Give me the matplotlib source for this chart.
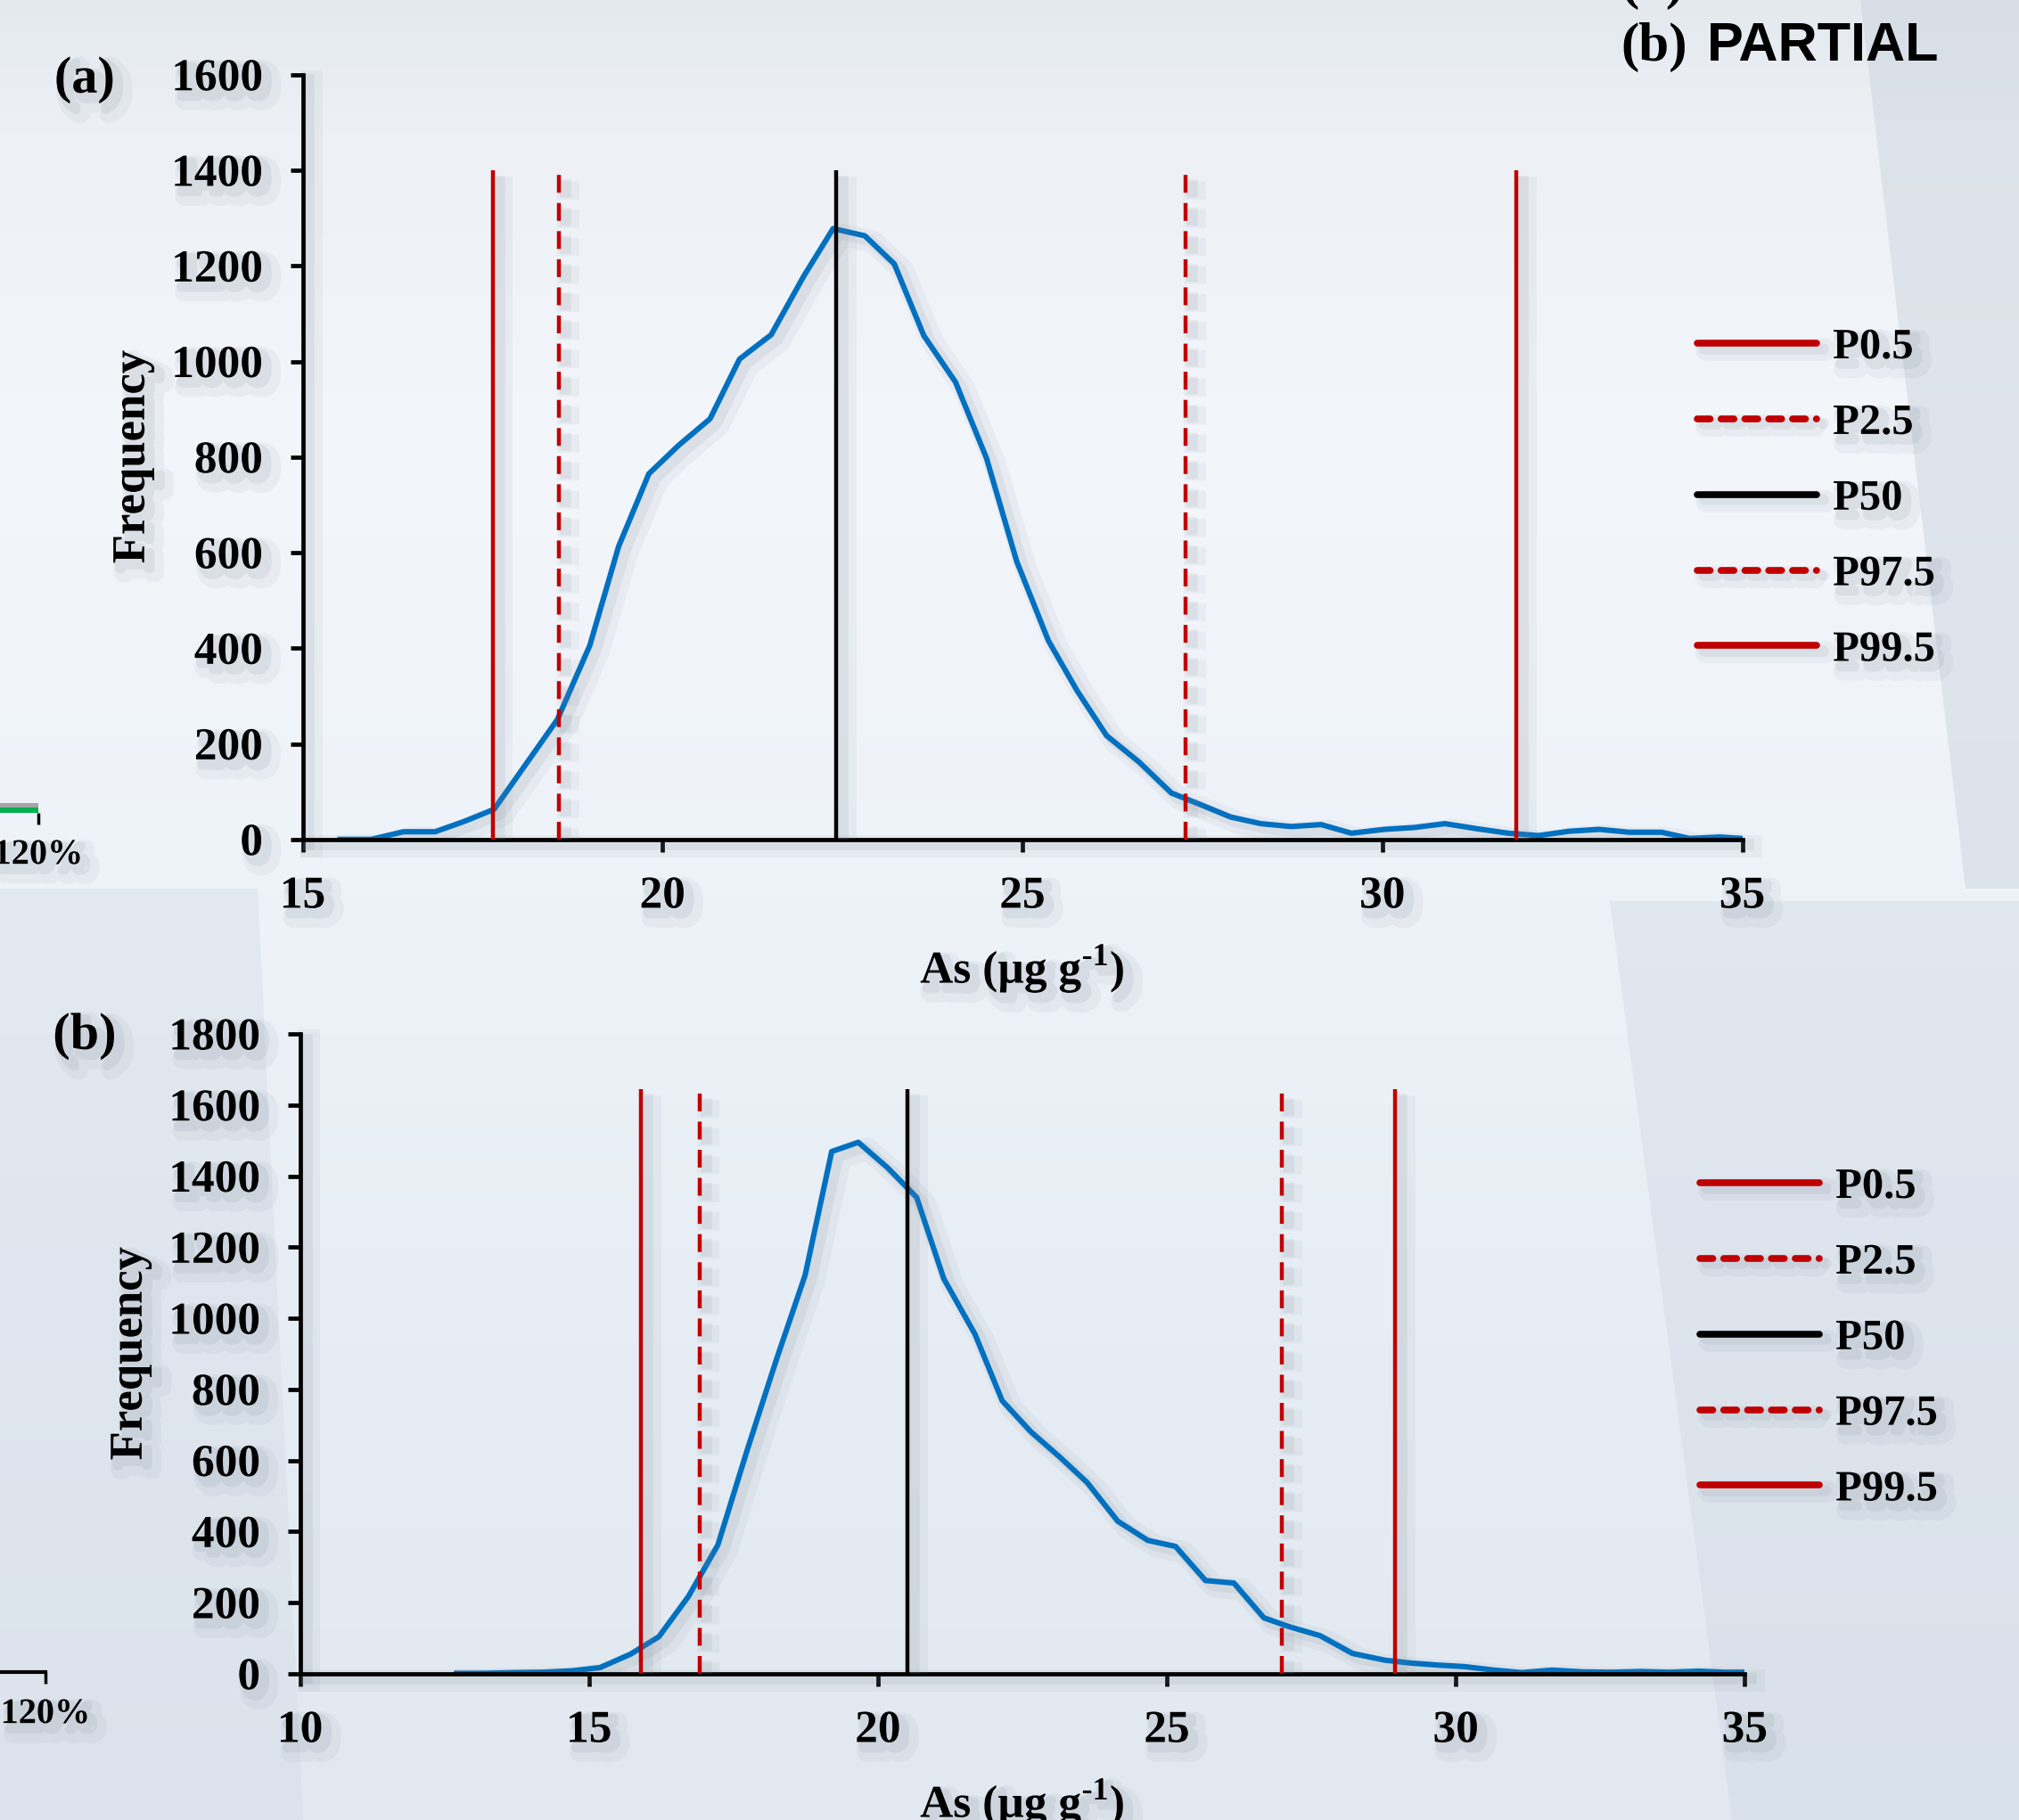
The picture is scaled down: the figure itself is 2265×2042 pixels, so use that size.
import numpy as np
import matplotlib
matplotlib.use("Agg")
import matplotlib.pyplot as plt
import matplotlib.patheffects as pe
from matplotlib.lines import Line2D
from matplotlib.patches import Polygon

W, H = 2265, 2042

# (a) distribution of As
a_conc = [15.52, 15.95, 16.40, 16.84, 17.25, 17.66, 18.10, 18.54, 18.99, 19.39,
          19.81, 20.22, 20.66, 21.07, 21.51, 21.96, 22.37, 22.81, 23.22, 23.63,
          24.07, 24.50, 24.92, 25.36, 25.76, 26.17, 26.62, 27.07, 27.47, 27.89,
          28.31, 28.73, 29.15, 29.57, 30.03, 30.45, 30.87, 31.33, 31.75, 32.17,
          32.59, 33.01, 33.43, 33.88, 34.27, 34.69, 35.00]
a_freq = [0, 0, 16, 16, 38, 63, 157, 251, 406, 613,
          765, 824, 880, 1005, 1056, 1178, 1278, 1263, 1204, 1054,
          957, 798, 582, 416, 311, 217, 162, 97, 73, 47,
          33, 27, 31, 13, 21, 25, 33, 22, 13, 8,
          17, 21, 15, 15, 2, 5, 2]
a_pct = [17.64, 18.56, 22.41, 27.27, 31.86]
a_pct_top = 1400

# (b) distribution of As
b_conc = [12.71, 13.20, 13.70, 14.20, 14.70, 15.19, 15.72, 16.21, 16.72, 17.23,
          17.73, 18.24, 18.74, 19.20, 19.66, 20.17, 20.67, 21.14, 21.68, 22.15,
          22.65, 23.15, 23.62, 24.15, 24.67, 25.15, 25.67, 26.16, 26.68, 27.12,
          27.65, 28.21, 28.77, 29.21, 29.70, 30.14, 30.66, 31.14, 31.67, 32.20,
          32.66, 33.20, 33.70, 34.20, 34.65, 35.00]
b_freq = [1, 1, 3, 4, 8, 17, 55, 104, 217, 362,
          625, 882, 1121, 1469, 1495, 1423, 1340, 1111, 955, 768,
          680, 609, 538, 429, 375, 358, 262, 255, 157, 132,
          107, 57, 38, 30, 24, 20, 10, 3, 10, 5,
          4, 6, 4, 7, 4, 4]
b_pct = [15.90, 16.91, 20.51, 26.99, 28.95]
b_pct_top = 1645

pct_labels = ["P0.5", "P2.5", "P50", "P97.5", "P99.5"]
pct_colors = ["#c00000", "#c00000", "black", "#c00000", "#c00000"]
pct_dashed = [False, True, False, True, False]

SERIF = "Liberation Serif"
plt.rcParams["font.family"] = [SERIF, "DejaVu Sans"]
plt.rcParams["font.weight"] = "bold"
plt.rcParams["mathtext.fontset"] = "custom"
plt.rcParams["mathtext.rm"] = "Liberation Serif:bold"

SH = "#7f8995"


def line_fx():
    return [pe.SimpleLineShadow(offset=(7, -5), shadow_color=SH, alpha=0.08, linewidth=18),
            pe.SimpleLineShadow(offset=(5, -4), shadow_color=SH, alpha=0.12, linewidth=9),
            pe.Normal()]


def text_fx():
    return [pe.SimpleLineShadow(offset=(8, -8), shadow_color=SH, alpha=0.08, linewidth=16),
            pe.SimpleLineShadow(offset=(5, -5), shadow_color=SH, alpha=0.13, linewidth=7),
            pe.Normal()]


def fx(x):
    return x / W


def fy(y):
    return 1 - y / H


fig = plt.figure(figsize=(W / 100, H / 100), dpi=100)

# slide-like background
bg = fig.add_axes([0, 0, 1, 1], zorder=-10)
bg.axis("off")
stops_y = [0, 150, 500, 1000, 1400, 2042]
stops_c = ["#e4e9ef", "#edf1f6", "#f3f6fb", "#eef3f9", "#e8eef5", "#e1e8f0"]
rows = np.arange(H)
cols = np.array([matplotlib.colors.to_rgb(c) for c in stops_c])
grad = np.stack([np.interp(rows, stops_y, cols[:, k]) for k in range(3)], axis=1)
bg.imshow(grad[:, None, :], aspect="auto", extent=(0, W, H, 0))
bg.set_xlim(0, W)
bg.set_ylim(H, 0)
bg.add_patch(Polygon([(2087, 0), (W, 0), (W, 997), (2205, 997)], closed=True,
                     color="#c9d1db", alpha=0.45, lw=0))
bg.add_patch(Polygon([(1806, 1011), (W, 1011), (W, H), (1943, H)], closed=True,
                     color="#cfd7e1", alpha=0.4, lw=0))
bg.add_patch(Polygon([(0, 997), (289, 997), (340, H), (0, H)], closed=True,
                     color="#d3dbe5", alpha=0.4, lw=0))


def draw_panel(rect, conc, freq, pct, top, xlim, ylim, tag, tag_xy, leg_xy):
    ax = fig.add_axes(rect)
    ax.set_facecolor("none")
    ax.plot(conc, freq, color="#0070c0", lw=4.4, zorder=2, path_effects=line_fx())
    for x, c, d in zip(pct, pct_colors, pct_dashed):
        ax.vlines(x, 0, top, colors=c, lw=3.2, zorder=3,
                  linestyles=(0, (4.5, 2.6)) if d else "solid",
                  path_effects=line_fx())
    ax.set_xlim(*xlim)
    ax.set_ylim(*ylim)
    ax.set_xticks(np.arange(xlim[0], xlim[1] + 1, 5))
    ax.set_yticks(np.arange(0, ylim[1] + 1, 200))
    for s in ["top", "right"]:
        ax.spines[s].set_visible(False)
    for s in ["left", "bottom"]:
        ax.spines[s].set_linewidth(3.4)
        ax.spines[s].set_color("black")
        ax.spines[s].set_path_effects(line_fx())
    ax.tick_params(axis="both", direction="out", length=10, width=3.4,
                   labelsize=37, color="black")
    ax.tick_params(axis="y", pad=22)
    ax.tick_params(axis="x", pad=20)
    for lbl in ax.get_xticklabels() + ax.get_yticklabels():
        lbl.set_fontweight("bold")
        lbl.set_path_effects(text_fx())
    ax.set_ylabel("Frequency", fontsize=38, fontweight="bold", labelpad=14,
                  path_effects=text_fx())
    ax.set_xlabel(r"As (µg g$^{\text{-1}}$)", fontsize=37, fontweight="bold",
                  labelpad=20, path_effects=text_fx())
    fig.text(fx(tag_xy[0]), fy(tag_xy[1]), tag, fontsize=42, fontweight="bold",
             ha="center", va="center", path_effects=text_fx())

    handles = [Line2D([], [], color=c, lw=5.5,
                      linestyle=(0, (1.9, 1.6)) if d else "solid",
                      solid_capstyle="round", dash_capstyle="round")
               for c, d in zip(pct_colors, pct_dashed)]
    leg = fig.legend(handles, pct_labels, loc="upper left",
                     bbox_to_anchor=(fx(leg_xy[0]), fy(leg_xy[1])),
                     frameon=False, fontsize=35, handlelength=2.75,
                     handletextpad=0.38, labelspacing=0.84,
                     borderpad=0, borderaxespad=0)
    for t in leg.get_texts():
        t.set_fontweight("bold")
        t.set_path_effects(text_fx())
    for ln in leg.get_lines():
        ln.set_path_effects(line_fx())
    return ax


ax_a = draw_panel([fx(339.5), fy(941.8), (1954.5 - 339.5) / W, (941.8 - 83.8) / H],
                  a_conc, a_freq, a_pct, a_pct_top, (15, 35), (0, 1600),
                  "(a)", (95, 90), (1904, 368))
ax_b = draw_panel([fx(336.6), fy(1877.8), (1957.3 - 336.6) / W, (1877.8 - 1160) / H],
                  b_conc, b_freq, b_pct, b_pct_top, (10, 35), (0, 1800),
                  "(b)", (95, 1163), (1907, 1310))

# fragments of the neighbouring charts cut by the left edge
ax_na = fig.add_axes([fx(-60), fy(912), 103 / W, 11 / H])
ax_na.barh([1.5], [1.2], height=1, color="#a6a6a6")
ax_na.barh([0.5], [1.2], height=1, color="#00b050")
ax_na.set_xlim(1.0, 1.2)
ax_na.set_ylim(0, 2)
ax_nb = fig.add_axes([fx(-60), fy(1876), 111 / W, 10 / H])
ax_nb.set_xlim(1.0, 1.2)
for a in (ax_na, ax_nb):
    a.set_facecolor("none")
    for s in ["top", "right", "left"]:
        a.spines[s].set_visible(False)
    a.spines["bottom"].set_visible(a is ax_nb)
    a.spines["bottom"].set_linewidth(3)
    a.set_yticks([])
    a.set_xticks([1.2])
    a.set_xticklabels(["120%"])
    a.tick_params(axis="x", direction="out", length=9, width=2.5, labelsize=29, pad=12)
    for lbl in a.get_xticklabels():
        lbl.set_fontweight("bold")
        lbl.set_path_effects(text_fx())

# slide title fragments at the top right
fig.text(fx(1818), fy(-2), "(a)", fontsize=44, fontweight="bold", ha="left",
         va="baseline")
fig.text(fx(1818), fy(68), "(b)", fontsize=44, fontweight="bold", ha="left",
         va="baseline")
fig.text(fx(1915), fy(68), "PARTIAL", fontsize=44, fontweight="bold", ha="left",
         va="baseline", family=["Liberation Sans", "DejaVu Sans"])

fig.savefig("out.png", dpi=100)
